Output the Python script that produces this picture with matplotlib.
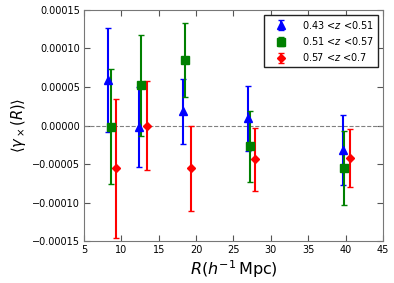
import matplotlib
matplotlib.use("Agg")
import matplotlib.pyplot as plt
import numpy as np

labels = [r"0.43 <$z$ <0.51", r"0.51 <$z$ <0.57", r"0.57 <$z$ <0.7"]
colors = ["blue", "green", "red"]
markers = ["^", "s", "D"]

x_blue = [8.2, 12.36, 18.3, 27.0, 39.6]
y_blue = [5.9e-5, -2e-6, 1.85e-5, 9.1e-6, -3.2e-5]
e_blue = [6.8e-5, 5.2e-5, 4.2e-5, 4.2e-5, 4.5e-5]

x_green = [8.6, 12.6, 18.55, 27.2, 39.8]
y_green = [-1.3e-6, 5.2e-5, 8.46e-5, -2.7e-5, -5.5e-5]
e_green = [7.5e-5, 6.5e-5, 4.8e-5, 4.6e-5, 4.8e-5]

x_red = [9.3, 13.4, 19.3, 27.95, 40.6]
y_red = [-5.57e-5, 0.0, -5.57e-5, -4.4e-5, -4.2e-5]
e_red = [9.0e-5, 5.8e-5, 5.5e-5, 4.1e-5, 3.8e-5]

xs = [x_blue, x_green, x_red]
ys = [y_blue, y_green, y_red]
es = [e_blue, e_green, e_red]
msizes = [6, 5.5, 4.5]

fig = plt.figure(figsize=(3.94, 2.83), dpi=100)
ax = fig.add_axes([0.213, 0.148, 0.759, 0.817])

ax.axhline(0, color="gray", ls="--", lw=0.8)
for x, y, e, c, m, lab, ms in zip(xs, ys, es, colors, markers, labels, msizes):
    ax.errorbar(x, y, yerr=e, fmt=m, color=c, ecolor=c, ms=ms, mec=c,
                elinewidth=1.5, capsize=2, capthick=1, label=lab)

ax.set_xlim(5, 45)
ax.set_ylim(-0.00015, 0.00015)
ax.set_xticks(np.arange(5, 46, 5))
yt = np.arange(-0.00015, 0.000151, 0.00005)
ax.set_yticks(yt)
ax.set_yticklabels([("\u2212" + "%.5f" % -v) if v < -1e-12 else "%.5f" % abs(v) for v in yt])
ax.tick_params(direction="in", top=True, right=True, labelsize=7, length=4, pad=3,
               color="#555555")
ax.set_xlabel(r"$R(h^{-1}\,\mathrm{Mpc})$", fontsize=11.5, labelpad=2)
ax.set_ylabel(r"$\langle\gamma_\times(R)\rangle$", fontsize=10.5, labelpad=3)
for s in ax.spines.values():
    s.set_color("#777777")

leg = ax.legend(loc="upper right", fontsize=7, numpoints=1, fancybox=False,
                framealpha=1, borderaxespad=0.5, handlelength=2.6,
                handletextpad=0.9, labelspacing=0.45)
leg.get_frame().set_edgecolor("#222222")

fig.savefig("out.png", dpi=100)
